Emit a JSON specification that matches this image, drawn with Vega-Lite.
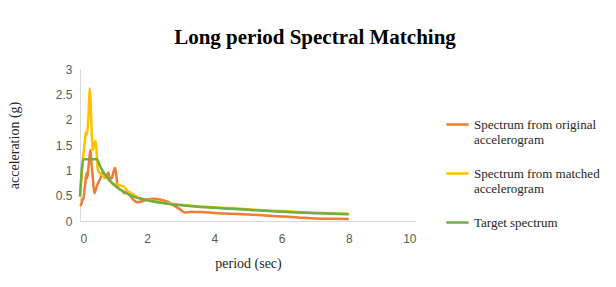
{
  "$schema": "https://vega.github.io/schema/vega-lite/v6.json",
  "width": 336,
  "height": 152,
  "autosize": {"type": "none"},
  "padding": {"left": 80, "top": 69, "right": 200, "bottom": 66},
  "background": "white",
  "title": {
    "text": "Long period Spectral Matching",
    "font": "Liberation Serif",
    "fontSize": 21,
    "fontWeight": "bold",
    "color": "#000000",
    "anchor": "middle",
    "dx": 67,
    "offset": 15
  },
  "config": {
    "font": "Liberation Serif",
    "view": {"stroke": null},
    "axis": {"grid": false, "ticks": false, "domainColor": "#d9d9d9", "labelColor": "#595959", "titleColor": "#262626"},
    "legend": {"labelFont": "Times New Roman, Liberation Serif, serif", "labelFontSize": 13}
  },
  "data": {
    "values": [
      {"s": "Spectrum from original accelerogram", "T": 0, "a": 0.30},
      {"s": "Spectrum from original accelerogram", "T": 0.05, "a": 0.35},
      {"s": "Spectrum from original accelerogram", "T": 0.08, "a": 0.45},
      {"s": "Spectrum from original accelerogram", "T": 0.1, "a": 0.42},
      {"s": "Spectrum from original accelerogram", "T": 0.13, "a": 0.6},
      {"s": "Spectrum from original accelerogram", "T": 0.16, "a": 0.75},
      {"s": "Spectrum from original accelerogram", "T": 0.2, "a": 0.95},
      {"s": "Spectrum from original accelerogram", "T": 0.22, "a": 0.85},
      {"s": "Spectrum from original accelerogram", "T": 0.25, "a": 1.05},
      {"s": "Spectrum from original accelerogram", "T": 0.28, "a": 1.25},
      {"s": "Spectrum from original accelerogram", "T": 0.31, "a": 1.4},
      {"s": "Spectrum from original accelerogram", "T": 0.34, "a": 1.15},
      {"s": "Spectrum from original accelerogram", "T": 0.37, "a": 0.95},
      {"s": "Spectrum from original accelerogram", "T": 0.4, "a": 0.7},
      {"s": "Spectrum from original accelerogram", "T": 0.43, "a": 0.55},
      {"s": "Spectrum from original accelerogram", "T": 0.47, "a": 0.62},
      {"s": "Spectrum from original accelerogram", "T": 0.52, "a": 0.72},
      {"s": "Spectrum from original accelerogram", "T": 0.58, "a": 0.8},
      {"s": "Spectrum from original accelerogram", "T": 0.64, "a": 0.9},
      {"s": "Spectrum from original accelerogram", "T": 0.68, "a": 0.97},
      {"s": "Spectrum from original accelerogram", "T": 0.73, "a": 0.85},
      {"s": "Spectrum from original accelerogram", "T": 0.78, "a": 0.88},
      {"s": "Spectrum from original accelerogram", "T": 0.84, "a": 0.95},
      {"s": "Spectrum from original accelerogram", "T": 0.9, "a": 0.82},
      {"s": "Spectrum from original accelerogram", "T": 0.95, "a": 0.85},
      {"s": "Spectrum from original accelerogram", "T": 1.0, "a": 0.98},
      {"s": "Spectrum from original accelerogram", "T": 1.04, "a": 1.05},
      {"s": "Spectrum from original accelerogram", "T": 1.08, "a": 0.9},
      {"s": "Spectrum from original accelerogram", "T": 1.12, "a": 0.68},
      {"s": "Spectrum from original accelerogram", "T": 1.18, "a": 0.62},
      {"s": "Spectrum from original accelerogram", "T": 1.25, "a": 0.6},
      {"s": "Spectrum from original accelerogram", "T": 1.32, "a": 0.55},
      {"s": "Spectrum from original accelerogram", "T": 1.4, "a": 0.57},
      {"s": "Spectrum from original accelerogram", "T": 1.48, "a": 0.52},
      {"s": "Spectrum from original accelerogram", "T": 1.55, "a": 0.45},
      {"s": "Spectrum from original accelerogram", "T": 1.62, "a": 0.4},
      {"s": "Spectrum from original accelerogram", "T": 1.7, "a": 0.37},
      {"s": "Spectrum from original accelerogram", "T": 1.8, "a": 0.38},
      {"s": "Spectrum from original accelerogram", "T": 1.9, "a": 0.4},
      {"s": "Spectrum from original accelerogram", "T": 2.0, "a": 0.43},
      {"s": "Spectrum from original accelerogram", "T": 2.2, "a": 0.44},
      {"s": "Spectrum from original accelerogram", "T": 2.4, "a": 0.42},
      {"s": "Spectrum from original accelerogram", "T": 2.6, "a": 0.38},
      {"s": "Spectrum from original accelerogram", "T": 2.8, "a": 0.3},
      {"s": "Spectrum from original accelerogram", "T": 3.0, "a": 0.22},
      {"s": "Spectrum from original accelerogram", "T": 3.1, "a": 0.17},
      {"s": "Spectrum from original accelerogram", "T": 3.3, "a": 0.18},
      {"s": "Spectrum from original accelerogram", "T": 3.6, "a": 0.18},
      {"s": "Spectrum from original accelerogram", "T": 4.0, "a": 0.16},
      {"s": "Spectrum from original accelerogram", "T": 4.5, "a": 0.145},
      {"s": "Spectrum from original accelerogram", "T": 5.0, "a": 0.13},
      {"s": "Spectrum from original accelerogram", "T": 5.5, "a": 0.11},
      {"s": "Spectrum from original accelerogram", "T": 6.0, "a": 0.09},
      {"s": "Spectrum from original accelerogram", "T": 6.5, "a": 0.07},
      {"s": "Spectrum from original accelerogram", "T": 7.0, "a": 0.05},
      {"s": "Spectrum from original accelerogram", "T": 7.5, "a": 0.045},
      {"s": "Spectrum from original accelerogram", "T": 8.0, "a": 0.04},

      {"s": "Spectrum from matched accelerogram", "T": 0, "a": 0.48},
      {"s": "Spectrum from matched accelerogram", "T": 0.05, "a": 0.9},
      {"s": "Spectrum from matched accelerogram", "T": 0.08, "a": 1.2},
      {"s": "Spectrum from matched accelerogram", "T": 0.11, "a": 1.35},
      {"s": "Spectrum from matched accelerogram", "T": 0.14, "a": 1.55},
      {"s": "Spectrum from matched accelerogram", "T": 0.17, "a": 1.75},
      {"s": "Spectrum from matched accelerogram", "T": 0.2, "a": 1.7},
      {"s": "Spectrum from matched accelerogram", "T": 0.23, "a": 1.85},
      {"s": "Spectrum from matched accelerogram", "T": 0.26, "a": 2.2},
      {"s": "Spectrum from matched accelerogram", "T": 0.29, "a": 2.62},
      {"s": "Spectrum from matched accelerogram", "T": 0.32, "a": 2.3},
      {"s": "Spectrum from matched accelerogram", "T": 0.35, "a": 1.7},
      {"s": "Spectrum from matched accelerogram", "T": 0.38, "a": 1.4},
      {"s": "Spectrum from matched accelerogram", "T": 0.41, "a": 1.45},
      {"s": "Spectrum from matched accelerogram", "T": 0.44, "a": 1.55},
      {"s": "Spectrum from matched accelerogram", "T": 0.47, "a": 1.58},
      {"s": "Spectrum from matched accelerogram", "T": 0.5, "a": 1.3},
      {"s": "Spectrum from matched accelerogram", "T": 0.53, "a": 1.02},
      {"s": "Spectrum from matched accelerogram", "T": 0.58, "a": 0.95},
      {"s": "Spectrum from matched accelerogram", "T": 0.65, "a": 0.92},
      {"s": "Spectrum from matched accelerogram", "T": 0.72, "a": 0.88},
      {"s": "Spectrum from matched accelerogram", "T": 0.8, "a": 0.85},
      {"s": "Spectrum from matched accelerogram", "T": 0.9, "a": 0.78},
      {"s": "Spectrum from matched accelerogram", "T": 1.0, "a": 0.73},
      {"s": "Spectrum from matched accelerogram", "T": 1.1, "a": 0.72},
      {"s": "Spectrum from matched accelerogram", "T": 1.2, "a": 0.7},
      {"s": "Spectrum from matched accelerogram", "T": 1.3, "a": 0.68},
      {"s": "Spectrum from matched accelerogram", "T": 1.4, "a": 0.6},
      {"s": "Spectrum from matched accelerogram", "T": 1.5, "a": 0.56},
      {"s": "Spectrum from matched accelerogram", "T": 1.6, "a": 0.52},
      {"s": "Spectrum from matched accelerogram", "T": 1.7, "a": 0.47},
      {"s": "Spectrum from matched accelerogram", "T": 1.8, "a": 0.45},
      {"s": "Spectrum from matched accelerogram", "T": 2.0, "a": 0.42},
      {"s": "Spectrum from matched accelerogram", "T": 2.5, "a": 0.36},
      {"s": "Spectrum from matched accelerogram", "T": 3.0, "a": 0.32},
      {"s": "Spectrum from matched accelerogram", "T": 3.5, "a": 0.29},
      {"s": "Spectrum from matched accelerogram", "T": 4.0, "a": 0.27},
      {"s": "Spectrum from matched accelerogram", "T": 4.5, "a": 0.255},
      {"s": "Spectrum from matched accelerogram", "T": 5.0, "a": 0.23},
      {"s": "Spectrum from matched accelerogram", "T": 5.5, "a": 0.21},
      {"s": "Spectrum from matched accelerogram", "T": 6.0, "a": 0.195},
      {"s": "Spectrum from matched accelerogram", "T": 6.5, "a": 0.18},
      {"s": "Spectrum from matched accelerogram", "T": 7.0, "a": 0.165},
      {"s": "Spectrum from matched accelerogram", "T": 7.5, "a": 0.155},
      {"s": "Spectrum from matched accelerogram", "T": 8.0, "a": 0.145},

      {"s": "Target spectrum", "T": 0, "a": 0.48},
      {"s": "Target spectrum", "T": 0.1, "a": 1.22},
      {"s": "Target spectrum", "T": 0.5, "a": 1.22},
      {"s": "Target spectrum", "T": 0.6, "a": 1.08},
      {"s": "Target spectrum", "T": 0.7, "a": 0.96},
      {"s": "Target spectrum", "T": 0.8, "a": 0.87},
      {"s": "Target spectrum", "T": 1.0, "a": 0.72},
      {"s": "Target spectrum", "T": 1.2, "a": 0.62},
      {"s": "Target spectrum", "T": 1.4, "a": 0.54},
      {"s": "Target spectrum", "T": 1.6, "a": 0.48},
      {"s": "Target spectrum", "T": 1.8, "a": 0.44},
      {"s": "Target spectrum", "T": 2.0, "a": 0.41},
      {"s": "Target spectrum", "T": 2.5, "a": 0.35},
      {"s": "Target spectrum", "T": 3.0, "a": 0.31},
      {"s": "Target spectrum", "T": 3.5, "a": 0.28},
      {"s": "Target spectrum", "T": 4.0, "a": 0.26},
      {"s": "Target spectrum", "T": 4.5, "a": 0.24},
      {"s": "Target spectrum", "T": 5.0, "a": 0.22},
      {"s": "Target spectrum", "T": 5.5, "a": 0.20},
      {"s": "Target spectrum", "T": 6.0, "a": 0.185},
      {"s": "Target spectrum", "T": 6.5, "a": 0.17},
      {"s": "Target spectrum", "T": 7.0, "a": 0.155},
      {"s": "Target spectrum", "T": 7.5, "a": 0.145},
      {"s": "Target spectrum", "T": 8.0, "a": 0.135}
    ]
  },
  "mark": {"type": "line", "strokeWidth": 2.5, "interpolate": "monotone"},
  "encoding": {
    "x": {
      "field": "T", "type": "quantitative",
      "scale": {"domain": [0, 10], "nice": false},
      "axis": {"values": [0, 2, 4, 6, 8, 10], "title": "period (sec)", "titleFont": "Liberation Serif", "titleFontSize": 14, "titleFontWeight": "normal", "labelFont": "Liberation Sans", "labelFontSize": 12, "labelPadding": 12, "titlePadding": 12}
    },
    "y": {
      "field": "a", "type": "quantitative",
      "scale": {"domain": [0, 3], "nice": false},
      "axis": {"values": [0, 0.5, 1, 1.5, 2, 2.5, 3], "format": "~g", "title": "acceleration (g)", "titleFont": "Liberation Serif", "titleFontSize": 14, "titleFontWeight": "normal", "labelFont": "Liberation Sans", "labelFontSize": 12, "labelPadding": 8, "titlePadding": 34}
    },
    "color": {
      "field": "s", "type": "nominal",
      "scale": {"domain": ["Spectrum from original accelerogram", "Spectrum from matched accelerogram", "Target spectrum"], "range": ["#ED7D31", "#FFC000", "#70AD47"]},
      "legend": {
        "title": null, "orient": "none", "legendX": 365, "legendY": 43,
        "symbolType": "stroke", "symbolStrokeWidth": 2.5, "symbolSize": 500,
        "labelFont": "Times New Roman, Liberation Serif, serif", "labelFontSize": 13, "labelColor": "#262626",
        "labelLimit": 200, "rowPadding": 14,
        "labelExpr": "datum.label == 'Spectrum from original accelerogram' ? ['Spectrum from original', 'accelerogram'] : datum.label == 'Spectrum from matched accelerogram' ? ['Spectrum from matched', 'accelerogram'] : datum.label"
      }
    }
  }
}
